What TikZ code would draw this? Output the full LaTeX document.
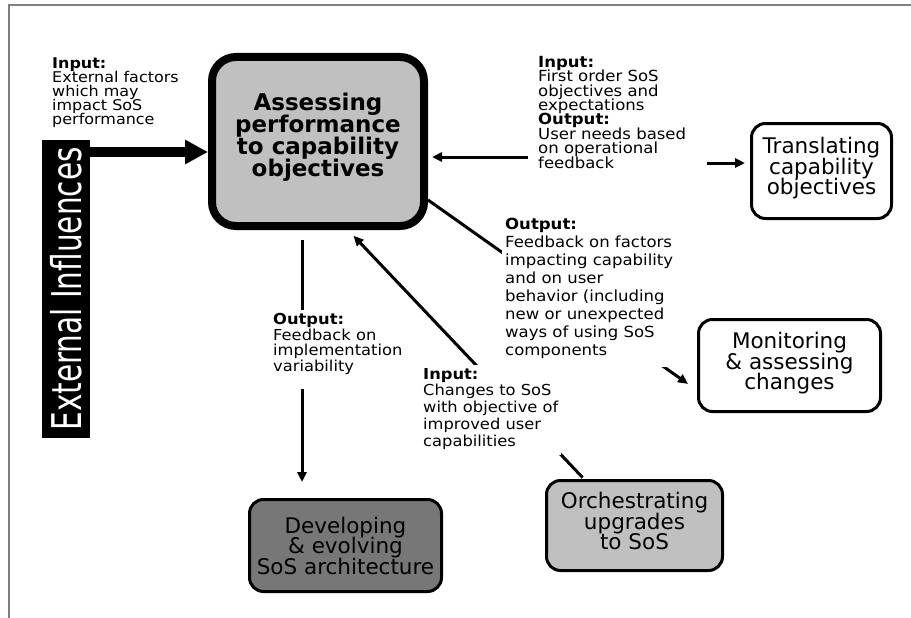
\documentclass[tikz,border=0pt]{standalone}
\usepackage{fontspec}
\setmainfont{DejaVu Sans}
\newfontfamily\labfont{DejaVu Sans}[FakeStretch=1.08]
\usetikzlibrary{arrows.meta}
\definecolor{framec}{RGB}{128,128,128}
\definecolor{lightbox}{RGB}{192,192,192}
\definecolor{darkbox}{RGB}{119,119,119}
\newcommand{\tightfont}[2]{\fontsize{#1}{#2}\selectfont\lineskiplimit=-100pt\lineskip=0pt}
\begin{document}
\begin{tikzpicture}[x=1pt,y=-1pt,
  arr/.style={line width=3pt,-{Triangle[length=10pt,width=9pt]}},
  box/.style={draw, line width=3pt, rounded corners=14pt, align=center, inner sep=0pt,
    font=\tightfont{21.5}{20.5}},
  lab/.style={align=left, anchor=north west, inner sep=3pt, fill=white},
]
\useasboundingbox (0,0) rectangle (911,618);
\draw[framec, line width=2pt] (911,5) -- (9,5) -- (9,618);

% boxes
\node[draw, line width=8pt, rounded corners=24pt, fill=lightbox, minimum width=212pt, minimum height=169pt,
  align=center, inner sep=0pt, font=\tightfont{23}{22}\bfseries] (main) at (318,141.5)
  {Assessing\\performance\\to capability\\objectives\rule[-14pt]{0pt}{0pt}};
\node[box, fill=white, minimum width=140pt, minimum height=95pt] (trans) at (821.5,171)
  {Translating\\capability\\objectives\rule[-10pt]{0pt}{0pt}};
\node[box, fill=white, minimum width=182pt, minimum height=92pt] (mon) at (789.5,365.5)
  {Monitoring\\\& assessing\\changes\rule[-9pt]{0pt}{0pt}};
\node[box, fill=darkbox, minimum width=192pt, minimum height=92pt] (dev) at (345.5,545.5)
  {Developing\\\& evolving\\SoS architecture};
\node[box, fill=lightbox, minimum width=176pt, minimum height=90pt] (orch) at (634.5,525.5)
  {Orchestrating\\upgrades\\to SoS\rule[-9pt]{0pt}{0pt}};
\node[fill=black, minimum width=48pt, minimum height=298pt, inner sep=0pt] (ext) at (66,289)
  {\rotatebox{90}{\color{white}\fontsize{41}{41}\selectfont\scalebox{0.72}[1]{External Influences}}};

% connectors
\coordinate (y152) at (0,152);
\draw[line width=10pt, -{Triangle[length=23pt,width=23pt]}] (ext.east |- y152) -- (main.west |- y152);
\coordinate (r1) at (528,157);
\coordinate (r2) at (707,163);
\draw[arr, shorten >=4pt] (r1) -- (main.east |- r1);
\draw[arr, shorten >=5pt] (r2) -- (trans.west |- r2);
\draw[arr, shorten >=11pt] (main.-28) -- (mon.195);
\coordinate (x302) at (302,0);
\draw[arr, shorten <=10pt, shorten >=16pt] (main.south -| x302) -- (dev.north -| x302);
\coordinate (x584) at (584,0);
\coordinate (x348) at (348,0);
\draw[arr, shorten <=2pt, shorten >=8pt] (orch.north -| x584) -- (main.south -| x348);

% labels
\node[lab, font=\labfont\tightfont{14.8}{13.8}] (tL) at (49,55)
  {\textbf{Input:}\\External factors\\which may\\impact SoS\\performance};
\node[lab, font=\labfont\tightfont{15.3}{14.4}] (tR) at (535,53)
  {\textbf{Input:}\\First order SoS\\objectives and\\expectations\\\textbf{Output:}\\User needs based\\on operational\\feedback};
\node[lab, font=\labfont\tightfont{15.3}{18}] (tM) at (502,215)
  {\textbf{Output:}\\Feedback on factors\\impacting capability\\and on user\\behavior (including\\new or unexpected\\ways of using SoS\\components\rule[-8pt]{0pt}{0pt}};
\node[lab, font=\labfont\tightfont{15.1}{15.6}] (tB) at (270,310)
  {\textbf{Output:}\\Feedback on\\implementation\\variability\rule[-15pt]{0pt}{0pt}};
\node[lab, font=\labfont\tightfont{15.1}{16.7}] (tI) at (420,365)
  {\textbf{Input:}\\Changes to SoS\\with objective of\\improved user\\capabilities\rule[-6pt]{0pt}{0pt}};
\end{tikzpicture}
\end{document}
